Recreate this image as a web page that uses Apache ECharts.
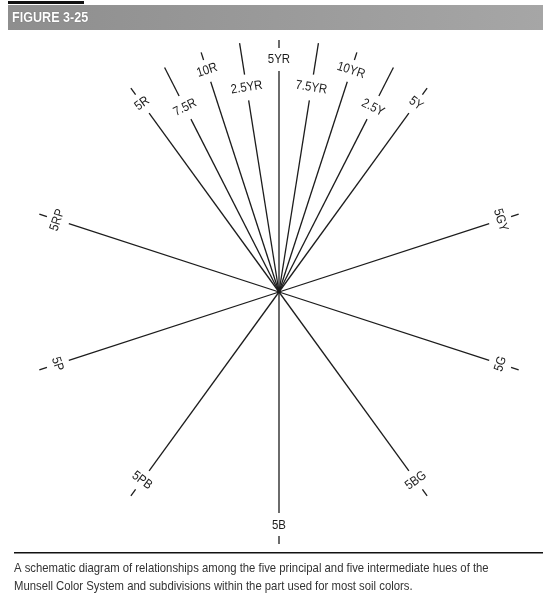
<!DOCTYPE html>
<html>
<head>
<meta charset="utf-8">
<script src="https://cdn.jsdelivr.net/npm/echarts@6/dist/echarts.min.js"></script>
<style>
  html, body { margin: 0; padding: 0; background: #fff; }
  #chart { width: 543px; height: 600px; }
</style>
</head>
<body>
<div id="chart"></div>
<script>
// Munsell hue names and their angle on the schematic (degrees, counter-clockwise from east)
const hues = ['5R', '7.5R', '10R', '2.5YR', '5YR', '7.5YR', '10YR', '2.5Y', '5Y',
    '5GY', '5G', '5BG', '5B', '5PB', '5P', '5RP'];
const hueAngles = [126, 117, 108, 99, 90, 81, 72, 63, 54,
    18, 342, 306, 270, 234, 198, 162];
// labels drawn partway along the spoke instead of at its end
const innerLabels = ['7.5R', '2.5YR', '7.5YR', '2.5Y'];

const captionLines = [
    'A schematic diagram of relationships among the five principal and five intermediate hues of the',
    'Munsell Color System and subdivisions within the part used for most soil colors.'
];

const SPOKE = 252;
const ink = '#1c1c1c';
const labelFont = '13px "Liberation Sans", Arial, sans-serif';
const captionFont = '13px "Liberation Sans", Arial, sans-serif';

const chart = echarts.init(document.getElementById('chart'));

function spokeRender(params, api) {
    const a = api.value(1);
    const name = hues[params.dataIndex];
    const inner = innerLabels.indexOf(name) >= 0;
    const p = r => api.coord([r, a]);
    const seg = (r1, r2) => {
        const s = p(r1), e = p(r2);
        return {
            type: 'line',
            shape: { x1: s[0], y1: s[1], x2: e[0], y2: e[1] },
            style: { stroke: ink, lineWidth: 1.3 }
        };
    };
    const lower = a > 180;
    const rot = (lower ? a + 90 : a - 90) * Math.PI / 180;
    const labR = inner ? 207 : 233;
    const lp = p(labR);
    const kids = [];
    if (inner) {
        kids.push(seg(0, labR - 13));
        kids.push(seg(labR + 13, SPOKE));
    } else {
        kids.push(seg(0, labR - 12));
        kids.push(seg(labR + 11, SPOKE));
    }
    kids.push({
        type: 'text',
        x: lp[0],
        y: lp[1],
        rotation: rot,
        scaleX: 0.88,
        style: {
            text: name,
            align: 'center',
            verticalAlign: 'middle',
            font: labelFont,
            fill: ink
        }
    });
    return { type: 'group', children: kids };
}

chart.setOption({
    backgroundColor: '#ffffff',
    animation: false,
    polar: { center: [279, 292], radius: SPOKE },
    radiusAxis: {
        min: 0, max: SPOKE,
        axisLine: { show: false }, axisTick: { show: false },
        axisLabel: { show: false }, splitLine: { show: false }
    },
    angleAxis: {
        type: 'value', min: 0, max: 360, startAngle: 0, clockwise: false,
        axisLine: { show: false }, axisTick: { show: false },
        axisLabel: { show: false }, splitLine: { show: false }
    },
    graphic: [
        { type: 'rect', shape: { x: 8, y: 1, width: 76, height: 3 }, style: { fill: '#111' } },
        {
            type: 'rect', shape: { x: 8, y: 5, width: 535, height: 25 },
            style: {
                fill: new echarts.graphic.LinearGradient(0, 0, 1, 0, [
                    { offset: 0, color: '#8e8e8e' },
                    { offset: 1, color: '#a6a6a6' }
                ])
            }
        },
        {
            type: 'text', x: 12, y: 18, scaleX: 0.84,
            style: {
                text: 'FIGURE 3-25', fill: '#ffffff', verticalAlign: 'middle',
                font: 'bold 15px "Liberation Sans", Arial, sans-serif',
                textShadowColor: 'rgba(0,0,0,0.5)', textShadowBlur: 1
            }
        },
        { type: 'rect', shape: { x: 14, y: 552, width: 529, height: 1.6 }, style: { fill: '#111' } },
        {
            type: 'text', x: 14, y: 568, scaleX: 0.87,
            style: { text: captionLines[0], fill: '#333', verticalAlign: 'middle', font: captionFont }
        },
        {
            type: 'text', x: 14, y: 586, scaleX: 0.87,
            style: { text: captionLines[1], fill: '#333', verticalAlign: 'middle', font: captionFont }
        }
    ],
    series: [{
        type: 'custom',
        coordinateSystem: 'polar',
        silent: true,
        renderItem: spokeRender,
        data: hueAngles.map(a => [SPOKE, a])
    }]
});
</script>
</body>
</html>
